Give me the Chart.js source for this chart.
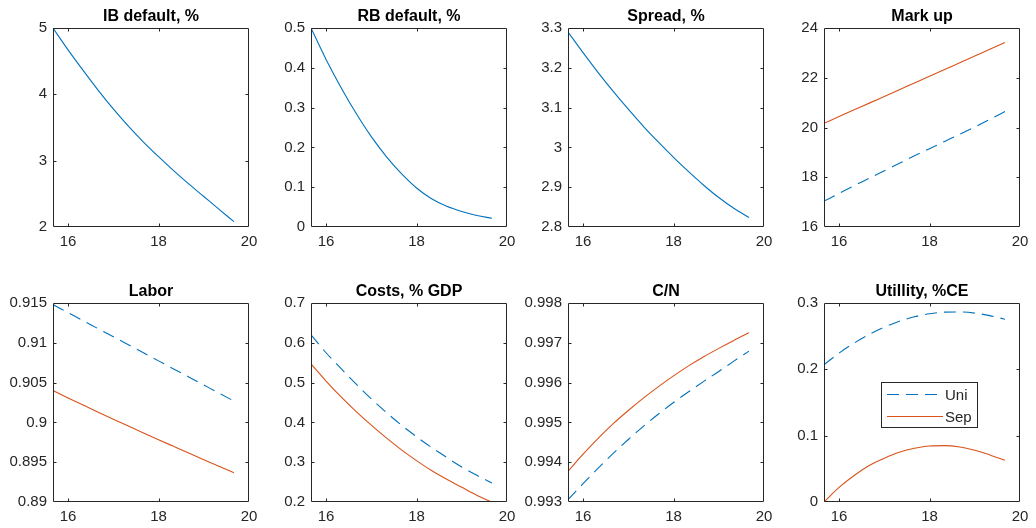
<!DOCTYPE html>
<html>
<head>
<meta charset="utf-8">
<script src="https://cdn.jsdelivr.net/npm/chart.js@4.4.1/dist/chart.umd.min.js"></script>
<style>
  html, body { margin: 0; padding: 0; background: #fff; overflow: hidden; }
  #fig { position: relative; width: 1036px; height: 528px; background: #fff; }
  #fig canvas { position: absolute; }
</style>
</head>
<body>
<div id="fig"></div>
<script>
// Shared horizontal grid and tick values
const xValues = [15.667, 16, 16.333, 16.667, 17, 17.333, 17.667, 18, 18.333, 18.667, 19, 19.333, 19.667];
const xTickValues = [16, 18, 20];

// Single-series panels
const ibDefault = [5.0, 4.67, 4.36, 4.06, 3.78, 3.52, 3.28, 3.06, 2.85, 2.65, 2.46, 2.27, 2.08];
const rbDefault = [0.5, 0.421, 0.350, 0.285, 0.227, 0.177, 0.134, 0.098, 0.071, 0.052, 0.039, 0.029, 0.022];
const spread = [3.290, 3.238, 3.188, 3.141, 3.096, 3.053, 3.013, 2.975, 2.939, 2.905, 2.874, 2.847, 2.824];

// Two-regime panels: Uni (dashed) and Sep (solid)
const markupUni = [17.04, 17.35, 17.66, 17.96, 18.26, 18.56, 18.86, 19.15, 19.44, 19.73, 20.02, 20.33, 20.64];
const markupSep = [20.17, 20.44, 20.71, 20.98, 21.25, 21.52, 21.79, 22.06, 22.33, 22.60, 22.87, 23.15, 23.42];
const laborUni = [0.91480, 0.91379, 0.91278, 0.91177, 0.91076, 0.90975, 0.90874, 0.90773, 0.90672, 0.90571, 0.90470, 0.90369, 0.90268];
const laborSep = [0.90400, 0.90308, 0.90218, 0.90129, 0.90041, 0.89954, 0.89868, 0.89783, 0.89699, 0.89615, 0.89532, 0.89450, 0.89368];
const costsUni = [0.620, 0.575, 0.535, 0.496, 0.459, 0.425, 0.393, 0.364, 0.337, 0.312, 0.288, 0.267, 0.248];
const costsSep = [0.547, 0.504, 0.464, 0.427, 0.393, 0.361, 0.331, 0.304, 0.279, 0.257, 0.237, 0.217, 0.199];
const cnUni = [0.99306, 0.99346, 0.99385, 0.99422, 0.99457, 0.99490, 0.99521, 0.99550, 0.99577, 0.99603, 0.99628, 0.99654, 0.99679];
const cnSep = [0.99377, 0.99420, 0.99460, 0.99497, 0.99530, 0.99561, 0.99590, 0.99617, 0.99642, 0.99665, 0.99686, 0.99706, 0.99725];
const utilityUni = [0.207, 0.2245, 0.2395, 0.2525, 0.2635, 0.2725, 0.2792, 0.2838, 0.2862, 0.2865, 0.2848, 0.2810, 0.2755];
const utilitySep = [0.0, 0.022, 0.040, 0.055, 0.066, 0.075, 0.081, 0.0845, 0.085, 0.083, 0.078, 0.071, 0.063];

// Panel titles and y tick values
const panelTitles = ['IB default, %', 'RB default, %', 'Spread, %', 'Mark up',
                     'Labor', 'Costs, % GDP', 'C/N', 'Utillity, %CE'];
const ibTicks = [2, 3, 4, 5];
const rbTicks = [0, 0.1, 0.2, 0.3, 0.4, 0.5];
const spreadTicks = [2.8, 2.9, 3.0, 3.1, 3.2, 3.3];
const markupTicks = [16, 18, 20, 22, 24];
const laborTicks = [0.89, 0.895, 0.9, 0.905, 0.91, 0.915];
const costsTicks = [0.2, 0.3, 0.4, 0.5, 0.6, 0.7];
const cnTicks = [0.993, 0.994, 0.995, 0.996, 0.997, 0.998];
const utilityTicks = [0, 0.1, 0.2, 0.3];
const seriesNames = ['Uni', 'Sep'];

// ---- styling / layout ----
const BLUE = '#0072BD';
const ORANGE = '#D95319';
const AXIS = '#262626';
const FONT = '"Liberation Sans", Arial, Helvetica, sans-serif';
const PLOT_W = 196, PLOT_H = 199;
const COL_LEFT = [53, 311, 568, 824];
const ROW_TOP = [28, 303];
const PAD_L = 60, PAD_T = 30, PAD_R = 16, PAD_B = 26;

const pts = ys => ys.map((y, i) => ({ x: xValues[i], y }));

function solid(ys, color, label) {
  return { label, data: pts(ys), borderColor: color, borderWidth: 1.1,
           pointRadius: 0, fill: false, cubicInterpolationMode: 'monotone' };
}
function dashed(ys, color, label) {
  return Object.assign(solid(ys, color, label), { borderDash: [12, 7] });
}

const panels = [
  { title: panelTitles[0], ticks: ibTicks, datasets: [solid(ibDefault, BLUE)] },
  { title: panelTitles[1], ticks: rbTicks, datasets: [solid(rbDefault, BLUE)] },
  { title: panelTitles[2], ticks: spreadTicks, datasets: [solid(spread, BLUE)] },
  { title: panelTitles[3], ticks: markupTicks, datasets: [dashed(markupUni, BLUE, seriesNames[0]), solid(markupSep, ORANGE, seriesNames[1])] },
  { title: panelTitles[4], ticks: laborTicks, datasets: [dashed(laborUni, BLUE, seriesNames[0]), solid(laborSep, ORANGE, seriesNames[1])] },
  { title: panelTitles[5], ticks: costsTicks, datasets: [dashed(costsUni, BLUE, seriesNames[0]), solid(costsSep, ORANGE, seriesNames[1])] },
  { title: panelTitles[6], ticks: cnTicks, datasets: [dashed(cnUni, BLUE, seriesNames[0]), solid(cnSep, ORANGE, seriesNames[1])] },
  { title: panelTitles[7], ticks: utilityTicks, datasets: [dashed(utilityUni, BLUE, seriesNames[0]), solid(utilitySep, ORANGE, seriesNames[1])], legend: true }
];

const fmt = v => String(parseFloat(Number(v).toFixed(4)));

// Box with inward tick marks on all four sides, plus the panel title
const boxPlugin = {
  id: 'boxAxes',
  afterDatasetsDraw(chart, args, opts) {
    const { ctx, chartArea: a, scales } = chart;
    const L = Math.round(a.left) + 0.5, R = Math.round(a.right) - 0.5;
    const T = Math.round(a.top) + 0.5, B = Math.round(a.bottom) - 0.5;
    const tl = 3;
    ctx.save();
    ctx.strokeStyle = AXIS;
    ctx.lineWidth = 1;
    ctx.beginPath();
    ctx.rect(L, T, R - L, B - T);
    scales.x.ticks.forEach(t => {
      const px = Math.round(scales.x.getPixelForValue(t.value)) + 0.5;
      if (px <= L + 1 || px >= R - 1) return;
      ctx.moveTo(px, B); ctx.lineTo(px, B - tl);
      ctx.moveTo(px, T); ctx.lineTo(px, T + tl);
    });
    scales.y.ticks.forEach(t => {
      const py = Math.round(scales.y.getPixelForValue(t.value)) + 0.5;
      if (py <= T + 1 || py >= B - 1) return;
      ctx.moveTo(L, py); ctx.lineTo(L + tl, py);
      ctx.moveTo(R, py); ctx.lineTo(R - tl, py);
    });
    ctx.stroke();
    // title
    ctx.fillStyle = '#000';
    ctx.font = 'bold 16px ' + FONT;
    ctx.textAlign = 'center';
    ctx.textBaseline = 'middle';
    ctx.fillText(opts.text, (a.left + a.right) / 2, a.top - 11.5);
    ctx.restore();
  }
};

// Inset legend for the last panel
const insetLegendPlugin = {
  id: 'insetLegend',
  afterDraw(chart, args, opts) {
    if (!opts.show) return;
    const { ctx, chartArea: a } = chart;
    const x0 = a.left + opts.dx, y0 = a.top + opts.dy;
    const w = opts.w, h = opts.h;
    ctx.save();
    ctx.fillStyle = '#fff';
    ctx.fillRect(x0, y0, w, h);
    ctx.strokeStyle = AXIS;
    ctx.lineWidth = 1;
    ctx.strokeRect(Math.round(x0) + 0.5, Math.round(y0) + 0.5, w, h);
    ctx.font = '15px ' + FONT;
    ctx.textBaseline = 'middle';
    ctx.textAlign = 'left';
    chart.data.datasets.forEach((ds, i) => {
      const yy = Math.round(y0 + 12 + i * 22) + 0.5;
      ctx.strokeStyle = ds.borderColor;
      ctx.lineWidth = 1.1;
      ctx.setLineDash(ds.borderDash || []);
      ctx.beginPath();
      ctx.moveTo(x0 + 6, yy);
      ctx.lineTo(x0 + 62, yy);
      ctx.stroke();
      ctx.setLineDash([]);
      ctx.fillStyle = AXIS;
      ctx.fillText(ds.label, x0 + 64, yy + 1);
    });
    ctx.restore();
  }
};

const fig = document.getElementById('fig');
panels.forEach((p, idx) => {
  const col = idx % 4, row = Math.floor(idx / 4);
  const cw = PLOT_W + PAD_L + PAD_R, ch = PLOT_H + PAD_T + PAD_B;
  const cv = document.createElement('canvas');
  cv.width = cw; cv.height = ch;
  cv.style.width = cw + 'px'; cv.style.height = ch + 'px';
  cv.style.left = (COL_LEFT[col] - PAD_L) + 'px';
  cv.style.top = (ROW_TOP[row] - PAD_T) + 'px';
  fig.appendChild(cv);

  const yTicks = p.ticks;
  new Chart(cv, {
    type: 'line',
    data: { datasets: p.datasets },
    plugins: [boxPlugin, insetLegendPlugin],
    options: {
      responsive: false,
      animation: false,
      devicePixelRatio: 1,
      layout: { padding: { top: PAD_T, right: PAD_R, left: 0, bottom: 0 } },
      plugins: {
        legend: { display: false },
        tooltip: { enabled: false },
        title: { display: false },
        boxAxes: { text: p.title },
        insetLegend: { show: !!p.legend, dx: 57, dy: 79, w: 96, h: 45 }
      },
      scales: {
        x: {
          type: 'linear',
          min: 15.667, max: 20,
          grid: { display: false, drawTicks: false },
          border: { display: false },
          afterBuildTicks: s => { s.ticks = xTickValues.map(v => ({ value: v })); },
          afterFit: s => { s.height = PAD_B; s.paddingLeft = 0; s.paddingRight = 0; },
          ticks: { color: AXIS, font: { family: FONT, size: 15 }, padding: 6,
                   maxRotation: 0, callback: v => fmt(v) }
        },
        y: {
          type: 'linear',
          min: yTicks[0], max: yTicks[yTicks.length - 1],
          grid: { display: false, drawTicks: false },
          border: { display: false },
          afterBuildTicks: s => { s.ticks = yTicks.map(v => ({ value: v })); },
          afterFit: s => { s.width = PAD_L; s.paddingTop = 0; s.paddingBottom = 0; },
          ticks: { color: AXIS, font: { family: FONT, size: 15 }, padding: 6,
                   callback: v => fmt(v) }
        }
      }
    }
  });
});
</script>
</body>
</html>
